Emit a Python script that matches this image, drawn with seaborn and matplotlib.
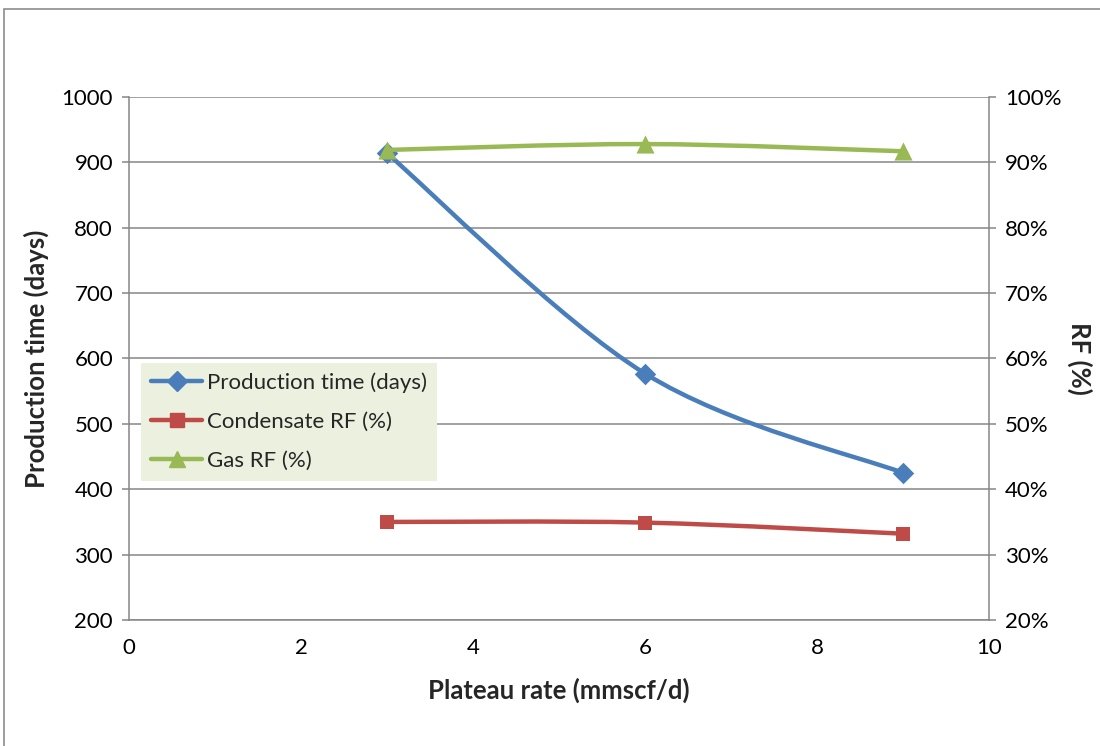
import matplotlib
matplotlib.use("Agg")
import matplotlib.pyplot as plt
from matplotlib.path import Path
from matplotlib.patches import PathPatch, Rectangle
from matplotlib.lines import Line2D
from matplotlib.ticker import PercentFormatter
import seaborn as sns
import pandas as pd

# Plateau rate (mmscf/d) and the three result series
plateau_rate = [3, 6, 9]
production_days = [914, 577, 425]
condensate_rf = [35.0, 34.9, 33.2]   # percent
gas_rf = [91.9, 92.8, 91.7]          # percent

x_ticks = [0, 2, 4, 6, 8, 10]
left_ticks = [200, 300, 400, 500, 600, 700, 800, 900, 1000]
right_ticks = [20, 30, 40, 50, 60, 70, 80, 90, 100]

BLUE = "#4A7EBB"
RED = "#BE4B48"
GREEN = "#98B954"
GRID = "#868686"

sns.set_theme(style="white")
plt.rcParams["font.family"] = ["Lato", "DejaVu Sans"]

fig = plt.figure(figsize=(11, 7.46), dpi=100)
ax = fig.add_axes([129 / 1100, 1 - 620 / 746, 860 / 1100, 523 / 746])
ax2 = ax.twinx()

# outer chart-area frame
fig.patches.append(Rectangle((4 / 1100, -0.05), 1.2, 1 - 9 / 746 + 0.05,
                             transform=fig.transFigure, fill=False,
                             edgecolor="#8C8C8C", linewidth=1.2, zorder=0))


def smooth_path(xs, ys):
    """Cubic Bezier path through the points (Catmull-Rom style smoothing)."""
    pts = list(zip(xs, ys))
    verts = [pts[0]]
    codes = [Path.MOVETO]
    n = len(pts)
    for i in range(n - 1):
        p0 = pts[i - 1] if i > 0 else pts[i]
        p1 = pts[i]
        p2 = pts[i + 1]
        p3 = pts[i + 2] if i + 2 < n else pts[i + 1]
        c1 = (p1[0] + (p2[0] - p0[0]) / 6, p1[1] + (p2[1] - p0[1]) / 6)
        c2 = (p2[0] - (p3[0] - p1[0]) / 6, p2[1] - (p3[1] - p1[1]) / 6)
        verts += [c1, c2, p2]
        codes += [Path.CURVE4] * 3
    return Path(verts, codes)


# Production time on the left axis
ax.add_patch(PathPatch(smooth_path(plateau_rate, production_days), fill=False,
                       edgecolor=BLUE, linewidth=3.2, capstyle="round", zorder=3))
df_prod = pd.DataFrame({"x": plateau_rate, "y": production_days})
sns.scatterplot(data=df_prod, x="x", y="y", ax=ax, marker="D", s=120,
                color=BLUE, edgecolor=BLUE, linewidth=0, zorder=4)

# Recovery factors on the right axis
for vals, color, mk, size in [(condensate_rf, RED, "s", 110), (gas_rf, GREEN, "^", 170)]:
    ax2.add_patch(PathPatch(smooth_path(plateau_rate, vals), fill=False,
                            edgecolor=color, linewidth=3.2, capstyle="round", zorder=3))
    df_rf = pd.DataFrame({"x": plateau_rate, "y": vals})
    sns.scatterplot(data=df_rf, x="x", y="y", ax=ax2, marker=mk, s=size,
                    color=color, edgecolor=color, linewidth=0, zorder=4)

ax.set_xlim(0, 10)
ax.set_ylim(200, 1000)
ax2.set_ylim(20, 100)
ax.set_xticks(x_ticks)
ax.set_yticks(left_ticks)
ax2.set_yticks(right_ticks)
ax2.yaxis.set_major_formatter(PercentFormatter(decimals=0))

ax.grid(axis="y", color=GRID, linewidth=1.1)
ax.set_axisbelow(True)
for a in (ax, ax2):
    a.spines["top"].set_visible(False)
    for s in ("left", "right", "bottom"):
        a.spines[s].set_color(GRID)
        a.spines[s].set_linewidth(1.1)
ax.spines["right"].set_visible(False)
ax2.spines["left"].set_visible(False)
ax2.spines["bottom"].set_visible(False)

tick_kw = dict(direction="out", length=5, width=1.1, color=GRID,
               labelsize=16, labelcolor="black")
ax.tick_params(axis="x", pad=8, **tick_kw)
ax.tick_params(axis="y", left=True, pad=6.5, **tick_kw)
ax2.tick_params(axis="y", right=True, pad=6.5, **tick_kw)

ax.set_xlabel("Plateau rate (mmscf/d)", fontsize=18.5, fontweight="bold", labelpad=14)
ax.set_ylabel("Production time (days)", fontsize=18.5, fontweight="bold", labelpad=9)
ax2.set_ylabel("RF (%)", fontsize=18.5, fontweight="bold", rotation=270, labelpad=22)

handles = [
    Line2D([], [], color=BLUE, lw=3.2, marker="D", markersize=10),
    Line2D([], [], color=RED, lw=3.2, marker="s", markersize=10),
    Line2D([], [], color=GREEN, lw=3.2, marker="^", markersize=12),
]
labels = ["Production time (days)", "Condensate RF (%)", "Gas RF (%)"]
leg = ax2.legend(handles, labels, loc="lower left", bbox_to_anchor=(0.014, 0.266),
                 borderaxespad=0, fontsize=16, handlelength=2.3, handletextpad=0.2,
                 labelspacing=0.85, borderpad=0.45, frameon=True, fancybox=False)
leg.get_frame().set_facecolor("#EBF0DF")
leg.get_frame().set_edgecolor("none")
leg.get_frame().set_alpha(1)
leg.set_zorder(10)

fig.savefig("out.png", dpi=100)
